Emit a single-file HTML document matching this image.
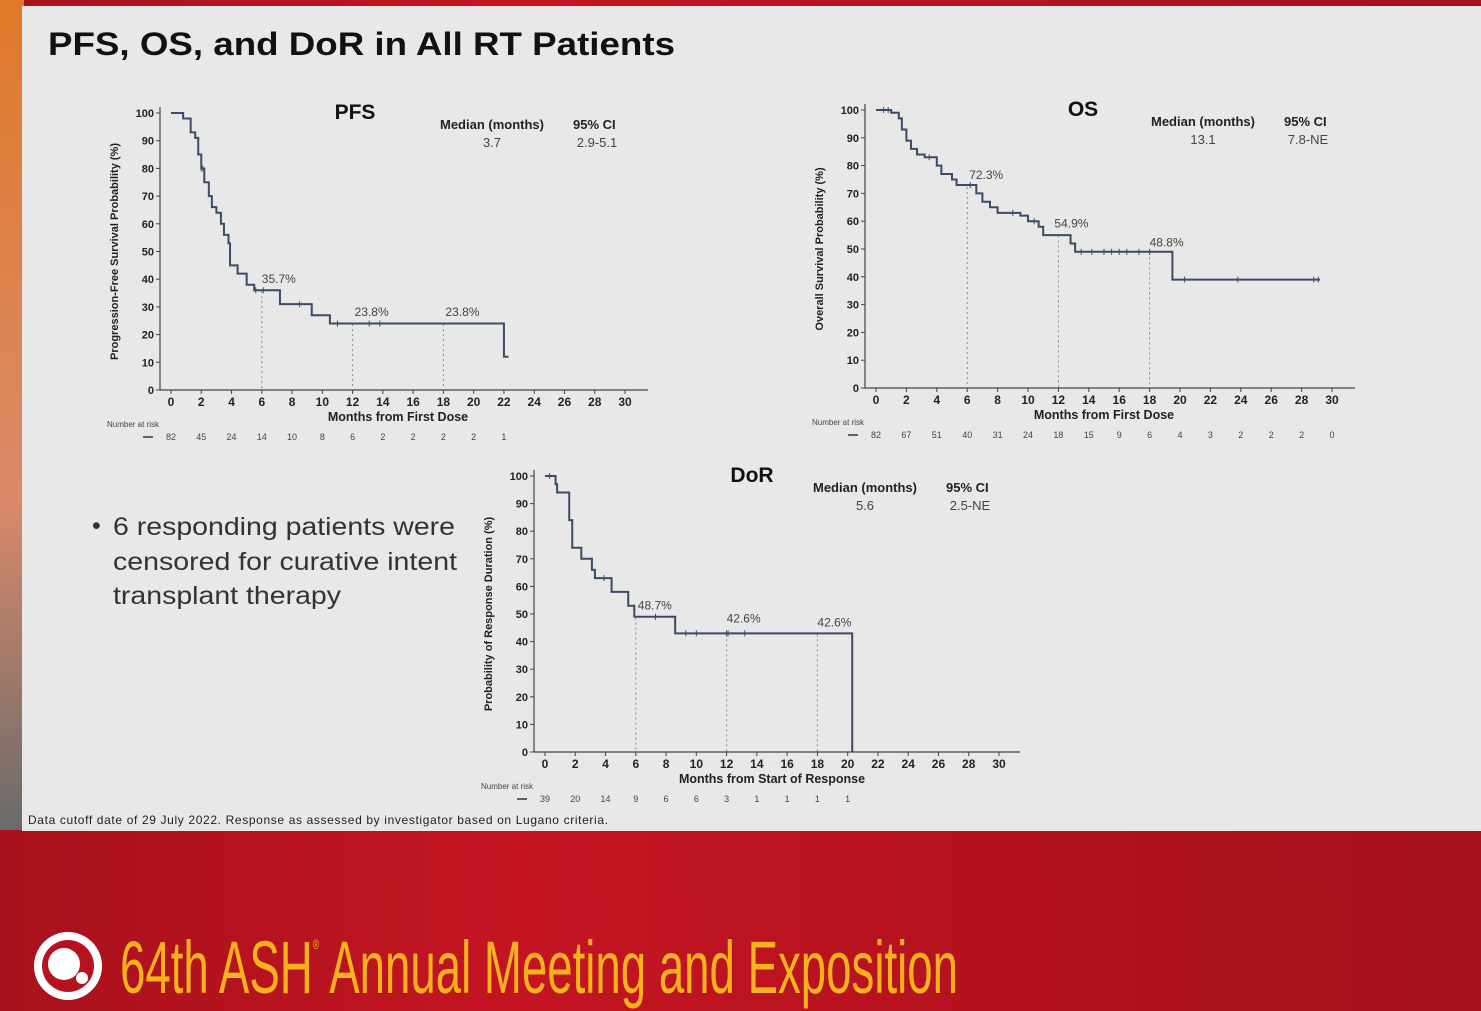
<!DOCTYPE html>
<html><head><meta charset="utf-8">
<style>
html,body{margin:0;padding:0;width:1481px;height:1011px;overflow:hidden;background:#b5141f}
svg{display:block}
</style></head>
<body>
<svg id="s" width="1481" height="1011" xmlns="http://www.w3.org/2000/svg" font-family="Liberation Sans, sans-serif">
<defs>
<linearGradient id="red" x1="0" y1="0" x2="1" y2="0">
<stop offset="0" stop-color="#a8121c"/><stop offset="0.35" stop-color="#c41422"/><stop offset="0.7" stop-color="#b3121e"/><stop offset="1" stop-color="#a5111b"/></linearGradient>
<linearGradient id="lft" x1="0" y1="0" x2="0" y2="1">
<stop offset="0" stop-color="#e07a2a"/><stop offset="0.6" stop-color="#d98a6a"/><stop offset="1" stop-color="#6a6a6a"/></linearGradient>
</defs>
<rect x="0" y="0" width="1481" height="1011" fill="url(#red)"/>
<rect x="0" y="0" width="24" height="830" fill="url(#lft)"/>
<rect x="22" y="6" width="1459" height="825" fill="#e8e8e8"/>
<text x="48" y="55" font-size="32" font-weight="bold" fill="#111" textLength="627" lengthAdjust="spacingAndGlyphs">PFS, OS, and DoR in All RT Patients</text>
<text x="28" y="824" font-size="12" fill="#222" textLength="580">Data cutoff date of 29 July 2022. Response as assessed by investigator based on Lugano criteria.</text>
<g font-size="25" fill="#333">
<text x="92" y="534">•</text>
<text x="113" y="535" textLength="342" lengthAdjust="spacingAndGlyphs">6 responding patients were</text>
<text x="113" y="570" textLength="344" lengthAdjust="spacingAndGlyphs">censored for curative intent</text>
<text x="113" y="604" textLength="228" lengthAdjust="spacingAndGlyphs">transplant therapy</text>
</g>
<circle cx="68" cy="966" r="34" fill="#fff"/>
<circle cx="68" cy="966" r="26" fill="#b5141f"/>
<circle cx="64" cy="964" r="16" fill="#fff"/>
<circle cx="82" cy="978" r="6" fill="#fff"/>
<text x="120" y="993" font-size="74" fill="#f6b21c" font-family="Liberation Sans Narrow, Liberation Sans, sans-serif" textLength="838" lengthAdjust="spacingAndGlyphs">64th ASH<tspan font-size="14" dy="-44">®</tspan><tspan dy="44"> Annual Meeting and Exposition</tspan></text>
<g id="charts"></g>
</svg>
<script>
const g=document.getElementById('charts');let h='';
function chart(o){
 const X=m=>o.x0+m*(o.x30-o.x0)/30, Y=p=>o.y0+(100-p)*(o.yb-o.y0)/100;
 const lx=o.x0-11;
 h+=`<line x1="${lx}" y1="${o.y0-6}" x2="${lx}" y2="${o.yb}" stroke="#444" stroke-width="1.2"/>`;
 h+=`<line x1="${lx}" y1="${o.yb}" x2="${o.xend}" y2="${o.yb}" stroke="#444" stroke-width="1.2"/>`;
 for(let p=0;p<=100;p+=10){h+=`<line x1="${lx-4}" y1="${Y(p)}" x2="${lx}" y2="${Y(p)}" stroke="#444"/><text x="${lx-6}" y="${Y(p)+4}" font-size="11" font-weight="bold" text-anchor="end" fill="#222">${p}</text>`;}
 for(let m=0;m<=30;m+=2){h+=`<line x1="${X(m)}" y1="${o.yb}" x2="${X(m)}" y2="${o.yb+4}" stroke="#444"/><text x="${X(m)}" y="${o.yb+16}" font-size="12" font-weight="bold" text-anchor="middle" fill="#222">${m}</text>`;}
 h+=`<text x="${X(15)}" y="${o.yb+31}" font-size="12.5" font-weight="bold" text-anchor="middle" fill="#222">${o.xl}</text>`;
 const cy=(o.y0+o.yb)/2;
 h+=`<text transform="translate(${lx-42},${cy}) rotate(-90)" font-size="11" font-weight="bold" text-anchor="middle" fill="#222">${o.yl}</text>`;
 h+=`<text x="${o.tx}" y="${o.y0+6}" font-size="21" font-weight="bold" text-anchor="middle" fill="#111">${o.t}</text>`;
 h+=`<text x="${o.mx}" y="${o.y0+16}" font-size="13" font-weight="bold" fill="#222">Median (months)</text><text x="${o.mx+133}" y="${o.y0+16}" font-size="13" font-weight="bold" fill="#222">95% CI</text>`;
 h+=`<text x="${o.mx+52}" y="${o.y0+34}" font-size="13" text-anchor="middle" fill="#444">${o.med}</text><text x="${o.mx+157}" y="${o.y0+34}" font-size="13" text-anchor="middle" fill="#444">${o.ci}</text>`;
 o.marks.forEach(k=>{h+=`<line x1="${X(k[0])}" y1="${Y(k[1])}" x2="${X(k[0])}" y2="${o.yb}" stroke="#888" stroke-dasharray="2,3"/><text x="${X(k[0])+k[2]}" y="${Y(k[1])-8+k[3]}" font-size="12" fill="#444">${k[1]}%</text>`;});
 let d=`M${X(0)},${Y(100)}`;
 o.s.forEach(([m,p])=>{d+=`H${X(m)}V${Y(p)}`;});
 d+=`H${X(o.end)}`;
 h+=`<path d="${d}" fill="none" stroke="#3d4a66" stroke-width="2"/>`;
 (o.cens||[]).forEach(c=>{let p=100;o.s.forEach(([m,q])=>{if(m<=c)p=q;});h+=`<line x1="${X(c)}" y1="${Y(p)-3}" x2="${X(c)}" y2="${Y(p)+3}" stroke="#3d4a66"/>`;});
 h+=`<text x="${o.x0-64}" y="${o.yb+37}" font-size="8" fill="#444">Number at risk</text><line x1="${o.x0-28}" y1="${o.yb+47}" x2="${o.x0-18}" y2="${o.yb+47}" stroke="#333" stroke-width="1.5"/>`;
 o.risk.forEach((r,i)=>{h+=`<text x="${X(i*2)}" y="${o.yb+50}" font-size="9" text-anchor="middle" fill="#444">${r}</text>`;});
}
chart({x0:171,x30:625,y0:113,yb:390,xend:648,t:'PFS',tx:355,mx:440,med:'3.7',ci:'2.9-5.1',
 xl:'Months from First Dose',yl:'Progression-Free Survival Probability (%)',
 s:[[0.8,98],[1.3,93],[1.6,91],[1.8,85],[2,80],[2.2,75],[2.5,70],[2.7,66],[3,64],[3.3,60],[3.5,56],[3.8,53],[3.9,45],[4.4,42],[5,38],[5.5,36],[7.2,31],[9.3,27],[10.5,24],[22,12]],end:22.3,
 cens:[2,2.1,5.6,6.1,8.5,11,13.1,13.8],marks:[[6,35.7,0,0],[12,23.8,2,0],[18,23.8,2,0]],
 risk:[82,45,24,14,10,8,6,2,2,2,2,1]});
chart({x0:876,x30:1332,y0:110,yb:388,xend:1355,t:'OS',tx:1083,mx:1151,med:'13.1',ci:'7.8-NE',
 xl:'Months from First Dose',yl:'Overall Survival Probability (%)',
 s:[[1,99],[1.5,97],[1.7,93],[2,89],[2.3,86],[2.7,84],[3.2,83],[4,80],[4.3,77],[5,75],[5.3,73],[6.6,70],[7,67],[7.5,65],[8,63],[9.5,62],[10,60],[10.7,58],[11,55],[12.8,52],[13.1,49],[19.5,39]],end:29.2,
 cens:[0.5,0.8,3.5,6.2,9,10.4,13.5,14.2,15,15.5,16,16.5,17.3,18,20.3,23.8,28.8,29.1],marks:[[6,72.3,2,0],[12,54.9,-4,0],[18,48.8,0,2]],
 risk:[82,67,51,40,31,24,18,15,9,6,4,3,2,2,2,0]});
chart({x0:545,x30:999,y0:476,yb:752,xend:1020,t:'DoR',tx:752,mx:813,med:'5.6',ci:'2.5-NE',
 xl:'Months from Start of Response',yl:'Probability of Response Duration (%)',
 s:[[0.7,97],[0.8,94],[1.6,84],[1.8,74],[2.4,70],[3.1,66],[3.3,63],[4.4,58],[5.5,53],[5.9,49],[8.6,43],[20.3,0]],end:20.3,
 cens:[0.3,3.9,7.3,9.3,10,12,12.1,13.2],marks:[[6,48.7,2,0],[12,42.6,0,-4],[18,42.6,0,0]],
 risk:[39,20,14,9,6,6,3,1,1,1,1]});
g.innerHTML=h;
</script>
</body></html>
